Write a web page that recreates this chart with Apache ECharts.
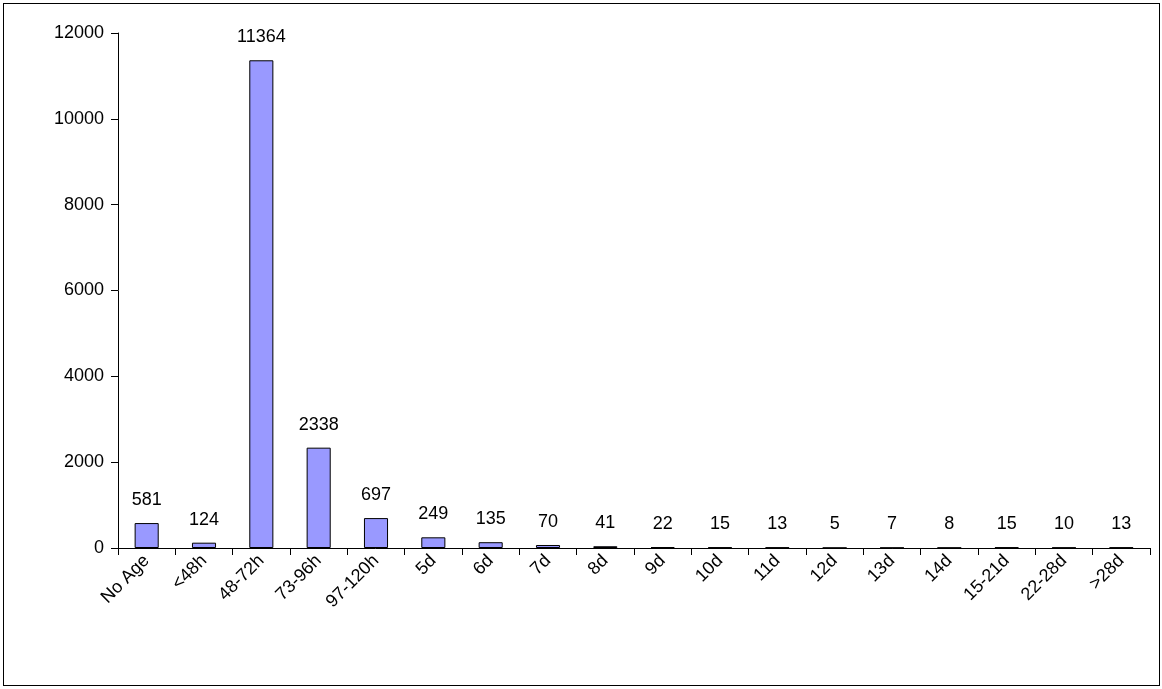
<!DOCTYPE html>
<html><head><meta charset="utf-8">
<script src="https://cdn.jsdelivr.net/npm/echarts@6/dist/echarts.min.js"></script>
<style>html,body{margin:0;padding:0;background:#fff}#c{width:1162px;height:689px}
#b{position:absolute;left:3px;top:3px;width:1155px;height:681px;border:1px solid #000;pointer-events:none}</style>
</head><body><div id="c"></div><div id="b"></div>
<script>
const categories = ["No Age","<48h","48-72h","73-96h","97-120h","5d","6d","7d","8d","9d","10d","11d","12d","13d","14d","15-21d","22-28d",">28d"];
const values = [581,124,11364,2338,697,249,135,70,41,22,15,13,5,7,8,15,10,13];
const yTicks = [0,2000,4000,6000,8000,10000,12000];
const chart = echarts.init(document.getElementById('c'));
const font = 'Liberation Sans, Arial, sans-serif';
chart.setOption({
  animation:false,
  grid:{left:118,right:12,top:33,bottom:141},
  xAxis:{type:'category',data:categories,
    axisLine:{lineStyle:{color:'#000'}},
    axisTick:{show:true,length:7,lineStyle:{color:'#000'}},
    axisLabel:{rotate:45,color:'#000',fontSize:18,fontFamily:font,margin:10,interval:0}},
  yAxis:{type:'value',min:yTicks[0],max:yTicks[yTicks.length-1],interval:2000,
    splitLine:{show:false},
    axisLine:{show:true,lineStyle:{color:'#000'}},
    axisTick:{show:true,length:7,lineStyle:{color:'#000'}},
    axisLabel:{color:'#000',fontSize:18,fontFamily:font,margin:14,formatter:v=>String(v)}},
  series:[{type:'bar',data:values,barWidth:'42%',
    itemStyle:{color:'#9999FF',borderColor:'#000',borderWidth:1},
    label:{show:true,position:'top',distance:14,color:'#000',fontSize:18,fontFamily:font}}]
});
</script></body></html>
